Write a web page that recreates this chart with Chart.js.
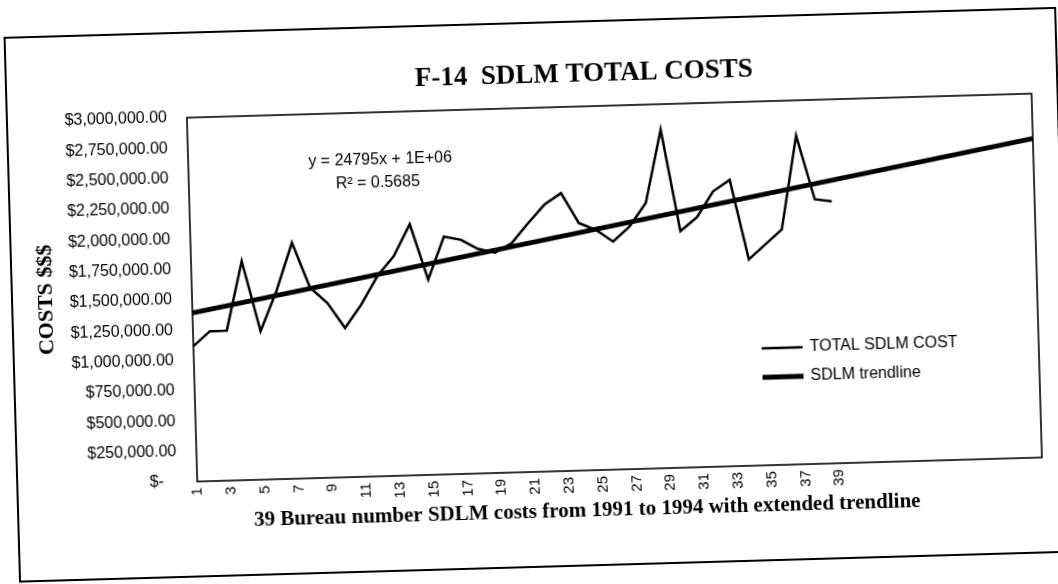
<!DOCTYPE html>
<html>
<head>
<meta charset="utf-8">
<script src="https://cdn.jsdelivr.net/npm/chart.js@4.4.1/dist/chart.umd.min.js"></script>
<style>
  html, body { margin: 0; padding: 0; background: #fff; overflow: hidden; }
  #wrap { width: 1058px; height: 584px; position: relative; overflow: hidden; }
  #chart { position: absolute; left: 0; top: 0; transform-origin: 529px 292px; transform: rotate(-1.63deg); }
</style>
</head>
<body>
<div id="wrap"><canvas id="chart" width="1080" height="600"></canvas></div>
<script>
// Bureau numbers (x axis) and the 12 forecast periods of the extended trendline
const bureaus = ['1','2','3','4','5','6','7','8','9','10','11','12','13','14','15','16','17','18','19','20',
                 '21','22','23','24','25','26','27','28','29','30','31','32','33','34','35','36','37','38','39'];
const forecast = ['','','','','','','','','','','',''];

// TOTAL SDLM COST per bureau
const totalCost = [1116000, 1235000, 1237000, 1805000, 1224000, 1550000, 1945000, 1570000, 1440000, 1230000,
                   1420000, 1650000, 1810000, 2070000, 1610000, 1960000, 1930000, 1850000, 1815000, 1890000,
                   2050000, 2200000, 2290000, 2040000, 1980000, 1880000, 2000000, 2190000, 2790000, 1950000,
                   2060000, 2270000, 2360000, 1700000, 1820000, 1940000, 2710000, 2180000, 2160000];

// trendline value at first bureau and at end of forecast
const trendStart = 1390000;
const trendEnd = 2630000;

const equation = 'y = 24795x + 1E+06';
const rSquared = 'R\u00B2 = 0.5685';

const labels = bureaus.concat(forecast);
const trend = labels.map((l, i) => i === 0 ? trendStart : (i === labels.length - 1 ? trendEnd : null));

const money = v => v === 0 ? '$-   ' :
    '$' + v.toLocaleString('en-US', { minimumFractionDigits: 2, maximumFractionDigits: 2 });

// Cadre, titres, légende
const decor = {
    id: 'decor',
    afterDraw(c) {
        const ctx = c.ctx, a = c.chartArea;
        ctx.save();
        ctx.strokeStyle = '#000';
        ctx.lineWidth = 2;
        ctx.strokeRect(12, 23, 1051, 544);
        ctx.lineWidth = 1.6;
        ctx.strokeRect(a.left, a.top, a.right - a.left, a.bottom - a.top);

        ctx.fillStyle = '#000';
        ctx.textAlign = 'center';
        ctx.textBaseline = 'middle';
        ctx.font = 'bold 27px "Liberation Serif"';
        ctx.fillText('F-14  SDLM TOTAL COSTS', 590, 76);
        ctx.font = 'bold 21px "Liberation Serif"';
        ctx.fillText('39 Bureau number SDLM costs from 1991 to 1994 with extended trendline', 581, 513);

        ctx.save();
        ctx.translate(46, 286);
        ctx.rotate(-Math.PI / 2);
        ctx.font = 'bold 22px "Liberation Serif"';
        ctx.fillText('COSTS $$$', 0, 0);
        ctx.restore();

        ctx.font = '16px "Liberation Sans"';
        ctx.fillText(equation, 384, 156);
        ctx.fillText(rSquared, 381, 179);

        // légende
        ctx.textAlign = 'left';
        ctx.lineWidth = 2.5;
        ctx.beginPath(); ctx.moveTo(760, 355); ctx.lineTo(801, 355); ctx.stroke();
        ctx.fillText('TOTAL SDLM COST', 808, 355);
        ctx.lineWidth = 5;
        ctx.beginPath(); ctx.moveTo(760, 384); ctx.lineTo(801, 384); ctx.stroke();
        ctx.fillText('SDLM trendline', 808, 384);
        ctx.restore();
    }
};

new Chart(document.getElementById('chart'), {
    type: 'line',
    data: {
        labels: labels,
        datasets: [{
            label: 'TOTAL SDLM COST',
            data: totalCost,
            borderColor: '#000',
            borderWidth: 2.5,
            pointRadius: 0,
            tension: 0
        }, {
            label: 'SDLM trendline',
            data: trend,
            borderColor: '#000',
            borderWidth: 5,
            pointRadius: 0,
            spanGaps: true
        }]
    },
    options: {
        responsive: false,
        animation: false,
        devicePixelRatio: 1,
        layout: { padding: { top: 108, right: 43, left: 0, bottom: 88 } },
        plugins: { legend: { display: false }, tooltip: { enabled: false } },
        scales: {
            x: {
                offset: false,
                grid: { display: false, drawTicks: false },
                border: { display: false },
                afterFit: s => { s.height = 40; },
                ticks: {
                    autoSkip: false,
                    maxRotation: 90,
                    minRotation: 90,
                    padding: 6,
                    color: '#000',
                    font: { family: 'Liberation Sans', size: 15 },
                    callback: function (v, i) {
                        const l = this.getLabelForValue(v);
                        return (i % 2 === 0 && l !== '') ? l : '';
                    }
                }
            },
            y: {
                min: 0,
                max: 3000000,
                grid: { display: false, drawTicks: false },
                border: { display: false },
                afterFit: s => { s.width = 192; },
                ticks: {
                    stepSize: 250000,
                    padding: 20,
                    color: '#000',
                    font: { family: 'Liberation Sans', size: 16 },
                    callback: v => money(v)
                }
            }
        }
    },
    plugins: [decor]
});
</script>
</body>
</html>
